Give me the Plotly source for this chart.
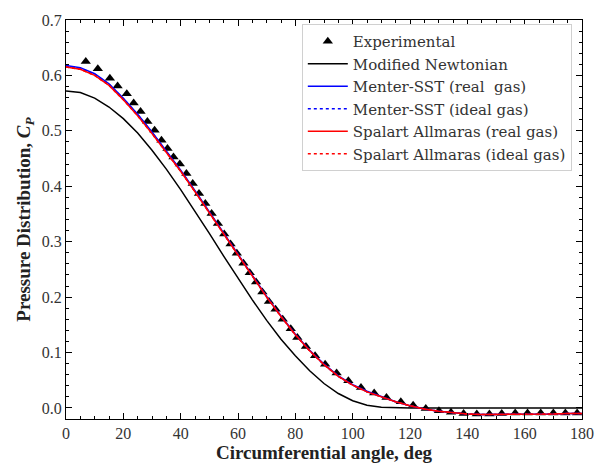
import plotly.graph_objects as go

# ---- data ----
angle_model = [0, 5, 10, 15, 20, 25, 30, 35, 40, 45, 50, 55, 60, 65, 70, 75, 80, 85, 90,
               95, 100, 105, 110, 115, 120, 125, 130, 135, 140, 145, 150, 155, 160, 165,
               170, 175, 180]

cp_newtonian = [0.572, 0.569, 0.559, 0.543, 0.522, 0.496, 0.465, 0.431, 0.394, 0.355, 0.315,
                0.274, 0.234, 0.195, 0.158, 0.124, 0.094, 0.067, 0.044, 0.026, 0.013, 0.005,
                0.001, 0.0, 0.0, 0.0, 0.0, 0.0, 0.0, 0.0, 0.0, 0.0, 0.0, 0.0, 0.0, 0.0, 0.0]

cp_sst_real = [0.618, 0.614, 0.603, 0.585, 0.559, 0.530, 0.498, 0.464, 0.429, 0.392, 0.354,
               0.315, 0.277, 0.239, 0.201, 0.166, 0.133, 0.104, 0.079, 0.058, 0.042, 0.030,
               0.020, 0.011, 0.004, -0.002, -0.006, -0.009, -0.011, -0.012, -0.012, -0.012,
               -0.011, -0.011, -0.011, -0.010, -0.010]

cp_sst_ideal = [0.617, 0.613, 0.602, 0.584, 0.558, 0.529, 0.497, 0.463, 0.428, 0.391, 0.353,
                0.314, 0.276, 0.238, 0.200, 0.165, 0.132, 0.103, 0.078, 0.057, 0.041, 0.029,
                0.020, 0.011, 0.004, -0.002, -0.006, -0.009, -0.011, -0.012, -0.012, -0.012,
                -0.011, -0.011, -0.011, -0.010, -0.010]

cp_sa_real = [0.615, 0.611, 0.600, 0.582, 0.556, 0.527, 0.495, 0.462, 0.427, 0.390, 0.352,
              0.313, 0.275, 0.238, 0.200, 0.165, 0.132, 0.103, 0.078, 0.057, 0.041, 0.029,
              0.020, 0.011, 0.004, -0.002, -0.006, -0.009, -0.011, -0.012, -0.012, -0.012,
              -0.011, -0.011, -0.011, -0.010, -0.010]

cp_sa_ideal = [0.615, 0.611, 0.600, 0.582, 0.556, 0.527, 0.495, 0.462, 0.427, 0.390, 0.352,
               0.313, 0.275, 0.238, 0.200, 0.165, 0.132, 0.103, 0.078, 0.057, 0.041, 0.029,
               0.020, 0.011, 0.004, -0.002, -0.006, -0.009, -0.011, -0.012, -0.012, -0.012,
               -0.011, -0.011, -0.011, -0.010, -0.010]

angle_exp = [6.9, 11.1, 15.3, 18.0, 21.2, 23.6, 26.0, 28.4, 30.9, 33.3, 35.4, 37.5,
             39.7, 42.0, 44.2, 46.4, 48.6, 50.8, 53.0, 55.2, 57.4, 59.6, 61.9, 64.1, 66.3,
             68.5, 70.8, 73.1, 75.6, 78.4, 80.7, 83.7, 86.9, 90.4, 94.4, 98.5, 102.9, 107.5,
             111.8, 116.8, 121.1, 125.5, 130.1, 134.3, 138.7, 143.3, 147.7, 152.0, 156.7,
             161.0, 165.6, 170.0, 174.2, 178.3]
cp_exp = [0.625, 0.612, 0.595, 0.581, 0.567, 0.550, 0.535, 0.517, 0.501, 0.483, 0.468, 0.453,
          0.440, 0.423, 0.405, 0.387, 0.369, 0.351, 0.333, 0.314, 0.296, 0.279, 0.261, 0.244,
          0.227, 0.209, 0.192, 0.178, 0.160, 0.143, 0.127, 0.111, 0.094, 0.079, 0.063, 0.049,
          0.037, 0.027, 0.019, 0.011, 0.005, -0.001, -0.005, -0.008, -0.010, -0.011, -0.011,
          -0.010, -0.009, -0.009, -0.009, -0.009, -0.009, -0.009]

x_ticks = [0, 20, 40, 60, 80, 100, 120, 140, 160, 180]
y_ticks = [0.0, 0.1, 0.2, 0.3, 0.4, 0.5, 0.6, 0.7]

FONT = "'Liberation Serif', 'DejaVu Serif', serif"
LEG_FONT = "'DejaVu Serif', serif"

fig = go.Figure()
fig.add_trace(go.Scatter(x=angle_exp, y=cp_exp, mode="markers", name="Experimental",
                         marker=dict(symbol="triangle-up", size=9, color="black")))
fig.add_trace(go.Scatter(x=angle_model, y=cp_newtonian, mode="lines", name="Modified Newtonian",
                         line=dict(color="black", width=1.5)))
fig.add_trace(go.Scatter(x=angle_model, y=cp_sst_real, mode="lines", name="Menter-SST (real  gas)",
                         line=dict(color="blue", width=1.5)))
fig.add_trace(go.Scatter(x=angle_model, y=cp_sst_ideal, mode="lines", name="Menter-SST (ideal gas)",
                         line=dict(color="blue", width=1.5, dash="dot")))
fig.add_trace(go.Scatter(x=angle_model, y=cp_sa_real, mode="lines", name="Spalart Allmaras (real gas)",
                         line=dict(color="red", width=1.5)))
fig.add_trace(go.Scatter(x=angle_model, y=cp_sa_ideal, mode="lines", name="Spalart Allmaras (ideal gas)",
                         line=dict(color="red", width=1.5, dash="dot")))

axis_common = dict(showline=True, linecolor="black", linewidth=1, mirror="ticks",
                   ticks="inside", ticklen=6, tickwidth=1, tickcolor="black",
                   showgrid=False, zeroline=False,
                   tickfont=dict(family=FONT, size=16, color="#333"))

fig.update_xaxes(range=[0, 180], tickvals=x_ticks, ticktext=[str(v) for v in x_ticks],
                 minor=dict(ticks="inside", ticklen=3, tickcolor="black", dtick=5),
                 title=dict(text="<b>Circumferential angle, deg</b>",
                            font=dict(family=FONT, size=19, color="#222"), standoff=2),
                 **axis_common)
fig.update_yaxes(range=[-0.02, 0.7], tickvals=y_ticks, ticktext=[f"{v:.1f}" for v in y_ticks],
                 minor=dict(ticks="inside", ticklen=3, tickcolor="black", dtick=0.02),
                 title=dict(text="<b>Pressure Distribution, <i>C<sub>P</sub></i></b>",
                            font=dict(family=FONT, size=19, color="#222"), standoff=6),
                 **axis_common)

fig.update_layout(
    width=606, height=470,
    margin=dict(l=66, r=21, t=14, b=47),
    plot_bgcolor="white", paper_bgcolor="white",
    font=dict(family=FONT, size=16, color="#222"),
    legend=dict(x=0.457, y=0.99, xanchor="left", yanchor="top",
                bgcolor="white", bordercolor="#d0d0d0", borderwidth=1,
                font=dict(family=LEG_FONT, size=15, color="#333"),
                itemwidth=40, tracegroupgap=0),
    showlegend=True,
)

fig.write_html("out.html")
